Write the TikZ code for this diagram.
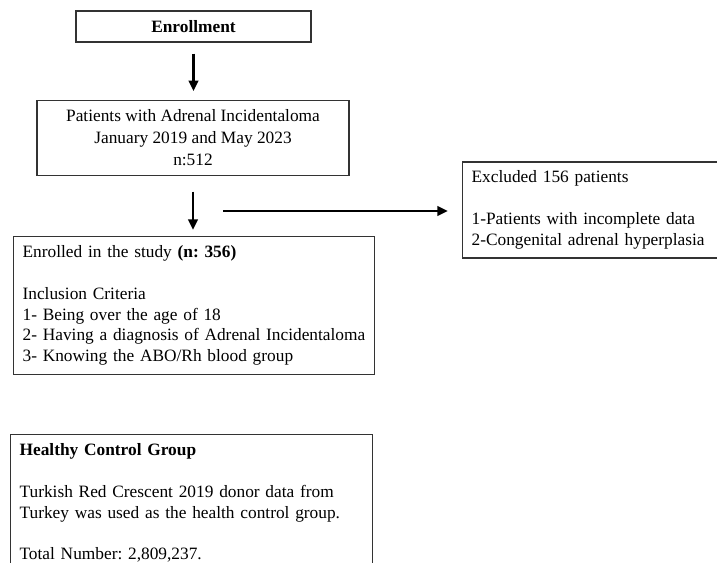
\documentclass[tikz,border=0pt]{standalone}
\usepackage{fontspec}
\setmainfont{Liberation Serif}
\usepackage{tikz}
\usetikzlibrary{arrows.meta,positioning}
\frenchspacing

\begin{document}
\begin{tikzpicture}[x=0.75pt,y=-0.75pt,>={Triangle[length=8pt,width=7pt]},
 box/.style={draw=black!80,line width=0.9pt,inner xsep=6.75pt,inner ysep=6.75pt,font=\fontsize{13}{15.6}\selectfont},
 listbox/.style={box,align=left,text width=#1},
 flow/.style={->,line width=2pt}]
\clip (0,0) rectangle (717,563);
% flow boxes
\node[box,minimum width=176.25pt,minimum height=23.25pt,font=\fontsize{13}{15.6}\selectfont\bfseries] (enr) at (193.5,26.5) {Enrollment};
\node[box,align=center,minimum width=234pt,minimum height=54pt,font=\fontsize{13}{16.5}\selectfont] (pat) at (193,138)
 {Patients with Adrenal Incidentaloma\\January 2019 and May 2023\\n:512};
\node[listbox=257.25pt,anchor=north west] (inc) at (13,236)
 {Enrolled in the study \textbf{(n: 356)}\\[15.6pt]
  Inclusion Criteria\\
  1- Being over the age of 18\\
  2- Having a diagnosis of Adrenal Incidentaloma\\
  3- Knowing the ABO/Rh blood group};
\node[listbox=195pt,anchor=west] (exc) at (462,210)
 {Excluded 156 patients\\[15.6pt]
  1-Patients with incomplete data\\
  2-Congenital adrenal hyperplasia};
\node[listbox=258pt,anchor=north west] (hcg) at (10,434)
 {\textbf{Healthy Control Group}\\[15.6pt]
  Turkish Red Crescent 2019 donor data from\\
  Turkey was used as the health control group.\\[15.6pt]
  Total Number: 2,809,237.};
% arrows
\coordinate (split) at (223,211);
\draw[flow,shorten <=8.25pt,shorten >=6.75pt] (enr.south) -- (enr.south |- pat.north);
\draw[flow,shorten <=12pt,shorten >=4.5pt] (pat.south) -- (pat.south |- inc.north);
\draw[flow,shorten >=10.5pt] (split) -- (split -| exc.west);
\end{tikzpicture}
\end{document}
